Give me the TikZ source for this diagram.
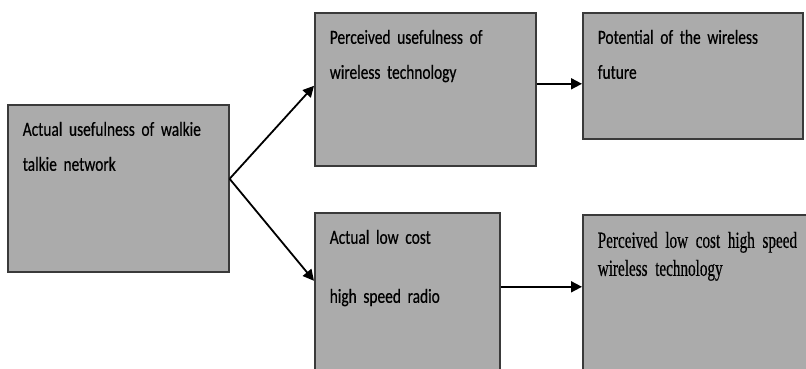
\documentclass[tikz,border=0pt]{standalone}
\usepackage{fontspec}
\usepackage{tikz}
\usetikzlibrary{arrows.meta,positioning}
\newfontfamily\boxfont[FakeStretch=0.77,FakeBold=0.5,WordSpace=0.75]{Carlito}
\newfontfamily\boxserif[FakeStretch=0.66,FakeBold=0.4,WordSpace=0.8]{Liberation Serif}
\definecolor{boxgray}{RGB}{171,171,171}
\definecolor{boxline}{RGB}{58,58,58}

\begin{document}
\begin{tikzpicture}[
  x=1pt,y=-1pt,
  every node/.style={font=\boxfont\fontsize{20}{35}\selectfont},
  box/.style={draw=boxline,fill=boxgray,line width=1.6pt,anchor=north west,align=left,
    inner xsep=15pt,inner ysep=0pt,text height=31pt},
  arrow/.style={-{Triangle[length=11pt,width=11pt]},line width=1.8pt,black}
]
  \useasboundingbox (0,0) rectangle (806,368);
  \clip (0,0) rectangle (806,368);
  % first column
  \node[box,text width=191pt,text depth=136pt] (actual) at (7,104) {Actual usefulness of walkie\\talkie network};
  % second column
  \node[box,text width=191pt,text depth=122pt] (perceived) at (314,12) {Perceived usefulness of\\wireless technology};
  \node[box,text width=155pt,text depth=139pt] (lowcost) at (314,212) {Actual low cost\\[24pt]high speed radio};
  % third column
  \node[box,text width=190pt,text depth=95pt] (potential) at (582,12) {Potential of the wireless\\future};
  \node[box,text width=245pt,text height=33pt,text depth=137pt,font=\boxserif\fontsize{23}{28}\selectfont] (lowcostperc) at (582,214) {Perceived low cost high speed\\wireless technology};
  % connectors
  \coordinate (split) at ([yshift=9.5pt]actual.east);
  \draw[arrow] (split) -- ([yshift=3.5pt]perceived.west);
  \draw[arrow] (split) -- ([yshift=17pt]lowcost.west);
  \coordinate (upper) at ([yshift=5.5pt]perceived.east);
  \coordinate (lower) at ([yshift=11pt]lowcost.east);
  \draw[arrow] (upper) -- (upper -| potential.west);
  \draw[arrow] (lower) -- (lower -| lowcostperc.west);
\end{tikzpicture}
\end{document}
